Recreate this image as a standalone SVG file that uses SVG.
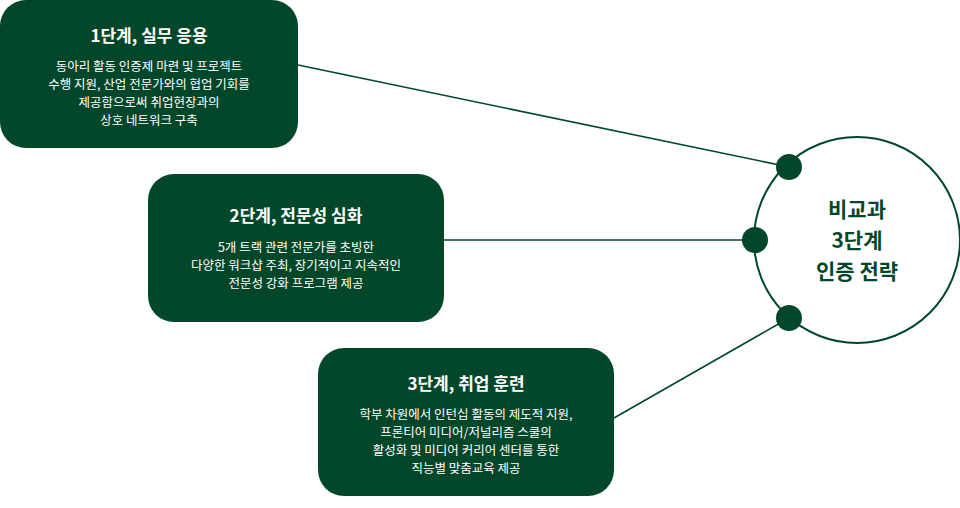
<svg xmlns="http://www.w3.org/2000/svg" width="960" height="508" viewBox="0 0 960 508">
<style>
.box{fill:#03472b}
.t{font-family:"Noto Sans CJK KR","Noto Sans",sans-serif;fill:#fff;text-anchor:middle}
.h{font-size:17px;font-weight:bold}
.b{font-size:12.5px}
.c{font-family:"Noto Sans CJK KR",sans-serif;font-size:21px;font-weight:bold;fill:#03472b;text-anchor:middle}
.ln{stroke:#03472b;stroke-width:1.6;fill:none}
.dot{fill:#03472b}
</style>
<rect width="960" height="508" fill="#fff"/>
<g id="connectors">
<line class="ln" x1="298" y1="65" x2="789" y2="167"/>
<line class="ln" x1="444" y1="240" x2="755" y2="240"/>
<line class="ln" x1="614" y1="418" x2="789" y2="318"/>
</g>
<g id="center">
<circle cx="857" cy="240" r="103" fill="#fff" stroke="#03472b" stroke-width="2"/>
<text class="c" x="857" y="217">비교과</text>
<text class="c" x="857" y="248">3단계</text>
<text class="c" x="857" y="279">인증 전략</text>
<circle class="dot" cx="789" cy="167" r="13"/>
<circle class="dot" cx="755" cy="240" r="13"/>
<circle class="dot" cx="789" cy="318" r="13"/>
</g>
<g id="step1">
<rect class="box" x="0" y="0" width="298" height="148" rx="26"/>
<text class="t h" x="149" y="42">1단계, 실무 응용</text>
<text class="t b" x="149" y="71">동아리 활동 인증제 마련 및 프로젝트</text>
<text class="t b" x="149" y="89">수행 지원, 산업 전문가와의 협업 기회를</text>
<text class="t b" x="149" y="107">제공함으로써 취업현장과의</text>
<text class="t b" x="149" y="125">상호 네트워크 구축</text>
</g>
<g id="step2">
<rect class="box" x="148" y="174" width="296" height="148" rx="26"/>
<text class="t h" x="296" y="222">2단계, 전문성 심화</text>
<text class="t b" x="296" y="252">5개 트랙 관련 전문가를 초빙한</text>
<text class="t b" x="296" y="270">다양한 워크샵 주최, 장기적이고 지속적인</text>
<text class="t b" x="296" y="288">전문성 강화 프로그램 제공</text>
</g>
<g id="step3">
<rect class="box" x="318" y="348" width="296" height="148" rx="26"/>
<text class="t h" x="466" y="390">3단계, 취업 훈련</text>
<text class="t b" x="466" y="419">학부 차원에서 인턴십 활동의 제도적 지원,</text>
<text class="t b" x="466" y="437">프론티어 미디어/저널리즘 스쿨의</text>
<text class="t b" x="466" y="455">활성화 및 미디어 커리어 센터를 통한</text>
<text class="t b" x="466" y="473">직능별 맞춤교육 제공</text>
</g>
</svg>
